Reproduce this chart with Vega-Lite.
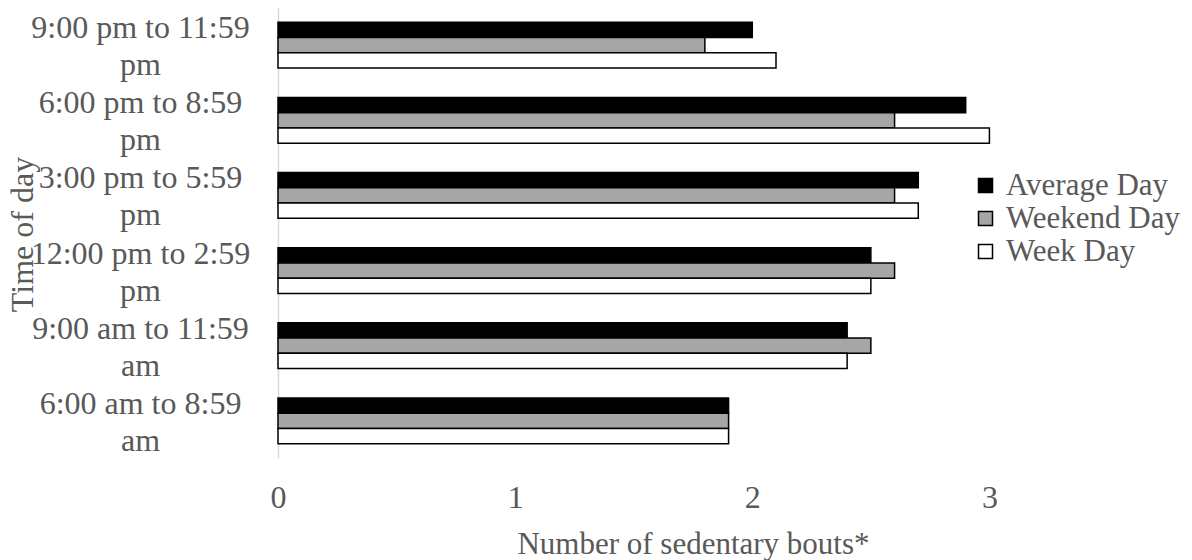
{
  "$schema": "https://vega.github.io/schema/vega-lite/v6.json",
  "autosize": {"type": "none"},
  "padding": {"left": 278, "top": 8, "right": 84, "bottom": 102},
  "width": 830,
  "height": 450,
  "background": "white",
  "config": {
    "view": {"stroke": null},
    "font": "Liberation Serif",
    "text": {"font": "Liberation Serif"}
  },
  "data": {
    "values": [
      {"time": "9:00 pm to 11:59 pm", "series": "Average Day", "value": 2.0},
      {"time": "9:00 pm to 11:59 pm", "series": "Weekend Day", "value": 1.8},
      {"time": "9:00 pm to 11:59 pm", "series": "Week Day", "value": 2.1},
      {"time": "6:00 pm to 8:59 pm", "series": "Average Day", "value": 2.9},
      {"time": "6:00 pm to 8:59 pm", "series": "Weekend Day", "value": 2.6},
      {"time": "6:00 pm to 8:59 pm", "series": "Week Day", "value": 3.0},
      {"time": "3:00 pm to 5:59 pm", "series": "Average Day", "value": 2.7},
      {"time": "3:00 pm to 5:59 pm", "series": "Weekend Day", "value": 2.6},
      {"time": "3:00 pm to 5:59 pm", "series": "Week Day", "value": 2.7},
      {"time": "12:00 pm to 2:59 pm", "series": "Average Day", "value": 2.5},
      {"time": "12:00 pm to 2:59 pm", "series": "Weekend Day", "value": 2.6},
      {"time": "12:00 pm to 2:59 pm", "series": "Week Day", "value": 2.5},
      {"time": "9:00 am to 11:59 am", "series": "Average Day", "value": 2.4},
      {"time": "9:00 am to 11:59 am", "series": "Weekend Day", "value": 2.5},
      {"time": "9:00 am to 11:59 am", "series": "Week Day", "value": 2.4},
      {"time": "6:00 am to 8:59 am", "series": "Average Day", "value": 1.9},
      {"time": "6:00 am to 8:59 am", "series": "Weekend Day", "value": 1.9},
      {"time": "6:00 am to 8:59 am", "series": "Week Day", "value": 1.9}
    ]
  },
  "mark": {"type": "bar", "stroke": "#000000", "strokeWidth": 1.5},
  "encoding": {
    "y": {
      "field": "time",
      "type": "nominal",
      "sort": ["9:00 pm to 11:59 pm", "6:00 pm to 8:59 pm", "3:00 pm to 5:59 pm", "12:00 pm to 2:59 pm", "9:00 am to 11:59 am", "6:00 am to 8:59 am"],
      "scale": {"paddingInner": 0.39, "paddingOuter": 0.19},
      "axis": {
        "title": "Time of day",
        "titleFont": "Liberation Serif",
        "titleFontSize": 32,
        "titleFontWeight": "normal",
        "titleColor": "#595959",
        "titleAngle": 270,
        "titleX": -256,
        "titleY": 226,
        "titleAlign": "center",
        "titleBaseline": "middle",
        "labelFont": "Liberation Serif",
        "labelFontSize": 32,
        "labelColor": "#595959",
        "labelAlign": "center",
        "labelBaseline": "middle",
        "labelLineHeight": 37,
        "labelOffset": -17,
        "labelPadding": 138,
        "labelLimit": 400,
        "labelExpr": "[slice(datum.label, 0, lastindexof(datum.label, ' ')), slice(datum.label, lastindexof(datum.label, ' ') + 1)]",
        "ticks": false,
        "tickSize": 0,
        "domain": true,
        "domainColor": "#d9d9d9",
        "domainWidth": 1.5,
        "grid": false
      }
    },
    "yOffset": {
      "field": "series",
      "type": "nominal",
      "sort": ["Average Day", "Weekend Day", "Week Day"],
      "scale": {"paddingInner": 0, "paddingOuter": 0}
    },
    "x": {
      "field": "value",
      "type": "quantitative",
      "scale": {"domain": [0, 3.5], "nice": false},
      "axis": {
        "title": "Number of sedentary bouts*",
        "titleFont": "Liberation Serif",
        "titleFontSize": 31,
        "titleFontWeight": "normal",
        "titleColor": "#595959",
        "titlePadding": 16,
        "values": [0, 1, 2, 3],
        "labelFont": "Liberation Serif",
        "labelFontSize": 32,
        "labelColor": "#595959",
        "labelPadding": 24,
        "labelFlush": false,
        "ticks": false,
        "tickSize": 0,
        "domain": false,
        "grid": false
      }
    },
    "fill": {
      "field": "series",
      "type": "nominal",
      "sort": ["Average Day", "Weekend Day", "Week Day"],
      "scale": {"domain": ["Average Day", "Weekend Day", "Week Day"], "range": ["#000000", "#a6a6a6", "#ffffff"]},
      "legend": {
        "title": null,
        "orient": "none",
        "legendX": 692,
        "legendY": 162,
        "symbolType": "square",
        "symbolSize": 196,
        "symbolStrokeColor": "#000000",
        "symbolStrokeWidth": 1.5,
        "labelFont": "Liberation Serif",
        "labelFontSize": 31,
        "labelColor": "#595959",
        "labelOffset": 5,
        "labelLimit": 400,
        "rowPadding": 1,
        "padding": 0
      }
    }
  }
}
